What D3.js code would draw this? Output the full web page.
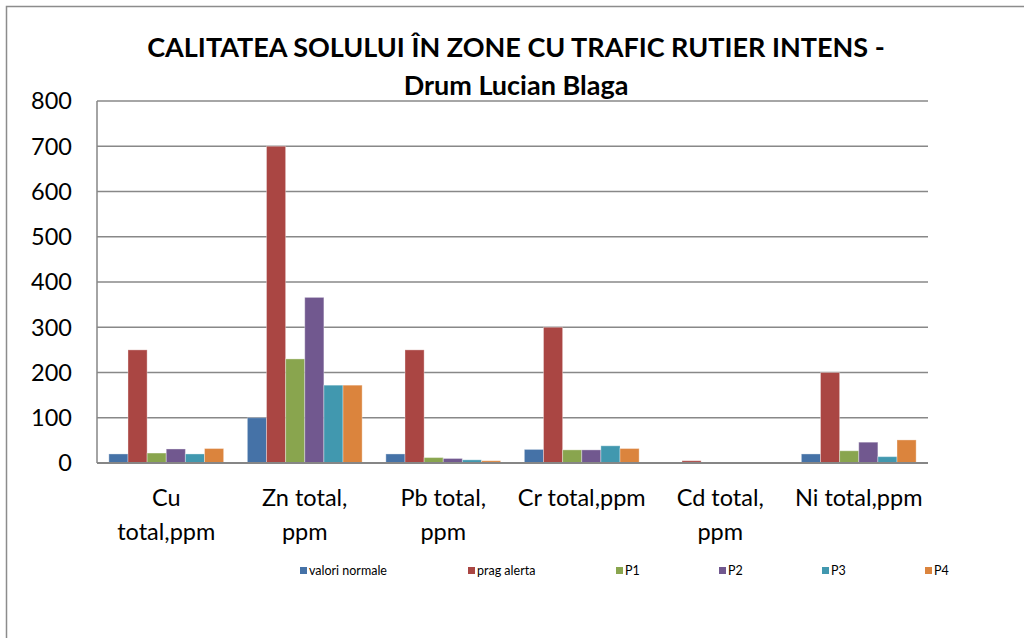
<!DOCTYPE html>
<html>
<head>
    <meta charset="utf-8">
    <script src="https://d3js.org/d3.v7.min.js"></script>
    <style>
        body { margin: 0; background: #fff; }
        text { font-family: Lato, "Liberation Sans", sans-serif; }
    </style>
</head>
<body>
<script>
// chart data
var categories = [["Cu", "total,ppm"], ["Zn total,", "ppm"], ["Pb total,", "ppm"], ["Cr total,ppm"], ["Cd total,", "ppm"], ["Ni total,ppm"]];
var seriesNames = ["valori normale", "prag alerta", "P1", "P2", "P3", "P4"];
var valoriNormale = [20, 100, 20, 30, 0.3, 20];
var pragAlerta = [250, 700, 250, 300, 5, 200];
var p1 = [22, 230, 12, 29, 0.2, 27];
var p2 = [31, 366, 10, 29, 0.2, 46];
var p3 = [20, 172, 7, 38, 0.2, 14];
var p4 = [32, 172, 5, 32, 0.2, 51];
var yTicks = [0, 100, 200, 300, 400, 500, 600, 700, 800];

var series = [valoriNormale, pragAlerta, p1, p2, p3, p4];
var colors = ["#4572A7", "#AA4643", "#89A54E", "#71588F", "#4198AF", "#DB843D"];

var width = 1024, height = 638;
var plotLeft = 97, plotRight = 928, plotTop = 101, plotBottom = 463;

var svg = d3.select("body").append("svg")
    .attr("width", width)
    .attr("height", height);

// outer frame (chart border)
svg.append("rect")
    .attr("x", 6.5).attr("y", 6.5)
    .attr("width", 1040).attr("height", 700)
    .attr("fill", "none")
    .attr("stroke", "#8c8c8c")
    .attr("stroke-width", 1.5);

var x0 = d3.scaleBand()
    .domain(d3.range(categories.length))
    .range([plotLeft, plotRight]);

var x1 = d3.scaleBand()
    .domain(d3.range(series.length))
    .range([0, x0.bandwidth()])
    .paddingOuter(0.62);

var y = d3.scaleLinear()
    .domain([0, 800])
    .range([plotBottom, plotTop]);

// gridlines
svg.append("g")
    .selectAll("line")
    .data(yTicks)
    .enter()
    .append("line")
    .attr("x1", plotLeft).attr("x2", plotRight)
    .attr("y1", d => y(d)).attr("y2", d => y(d))
    .style("stroke", "#888")
    .style("stroke-width", 1.5);

// y axis labels
svg.append("g")
    .selectAll("text")
    .data(yTicks)
    .enter()
    .append("text")
    .attr("x", 72)
    .attr("y", d => y(d))
    .attr("dy", "0.36em")
    .attr("text-anchor", "end")
    .style("font-size", "23.5px")
    .style("fill", "#000")
    .text(d => d);

// bars
var groups = svg.append("g")
    .selectAll("g")
    .data(categories)
    .enter()
    .append("g")
    .attr("transform", (d, i) => "translate(" + x0(i) + ",0)");

groups.selectAll("rect")
    .data((d, i) => series.map((s, j) => ({ s: j, v: s[i] })))
    .enter()
    .append("rect")
    .attr("x", d => x1(d.s))
    .attr("width", x1.bandwidth())
    .attr("y", d => y(d.v))
    .attr("height", d => y(0) - y(d.v))
    .attr("fill", d => colors[d.s])
    .attr("stroke", "rgba(255,255,255,0.35)")
    .attr("stroke-width", 1);

// axes lines
svg.append("line")
    .attr("x1", plotLeft).attr("x2", plotRight)
    .attr("y1", plotBottom).attr("y2", plotBottom)
    .style("stroke", "#868686").style("stroke-width", 2);
svg.append("line")
    .attr("x1", plotLeft).attr("x2", plotLeft)
    .attr("y1", plotTop).attr("y2", plotBottom)
    .style("stroke", "#868686").style("stroke-width", 1.5);

// category labels
var catLabels = svg.append("g")
    .selectAll("text")
    .data(categories)
    .enter()
    .append("text")
    .attr("text-anchor", "middle")
    .style("font-size", "23.5px")
    .style("fill", "#000");

catLabels.selectAll("tspan")
    .data((d, i) => d.map(t => ({ t: t, i: i })))
    .enter()
    .append("tspan")
    .attr("x", d => x0(d.i) + x0.bandwidth() / 2)
    .attr("y", (d, k) => 506 + k * 34)
    .text(d => d.t);

// title
var title = svg.append("text")
    .attr("text-anchor", "middle")
    .style("font-size", "27px")
    .style("font-weight", "bold")
    .style("fill", "#000");
title.append("tspan").attr("x", 516).attr("y", 57).text("CALITATEA SOLULUI ÎN ZONE CU TRAFIC RUTIER INTENS -");
title.append("tspan").attr("x", 516).attr("y", 95).text("Drum Lucian Blaga");

// legend
var legendX = [300, 468, 616, 719, 822, 925];
var legend = svg.append("g")
    .selectAll("g")
    .data(seriesNames)
    .enter()
    .append("g")
    .attr("transform", (d, i) => "translate(" + legendX[i] + ",567)");
legend.append("rect")
    .attr("width", 7).attr("height", 7)
    .attr("fill", (d, i) => colors[i]);
legend.append("text")
    .attr("x", 9).attr("y", 4)
    .attr("dy", "0.35em")
    .style("font-size", "12.5px")
    .style("fill", "#000")
    .text(d => d);
</script>
</body>
</html>
